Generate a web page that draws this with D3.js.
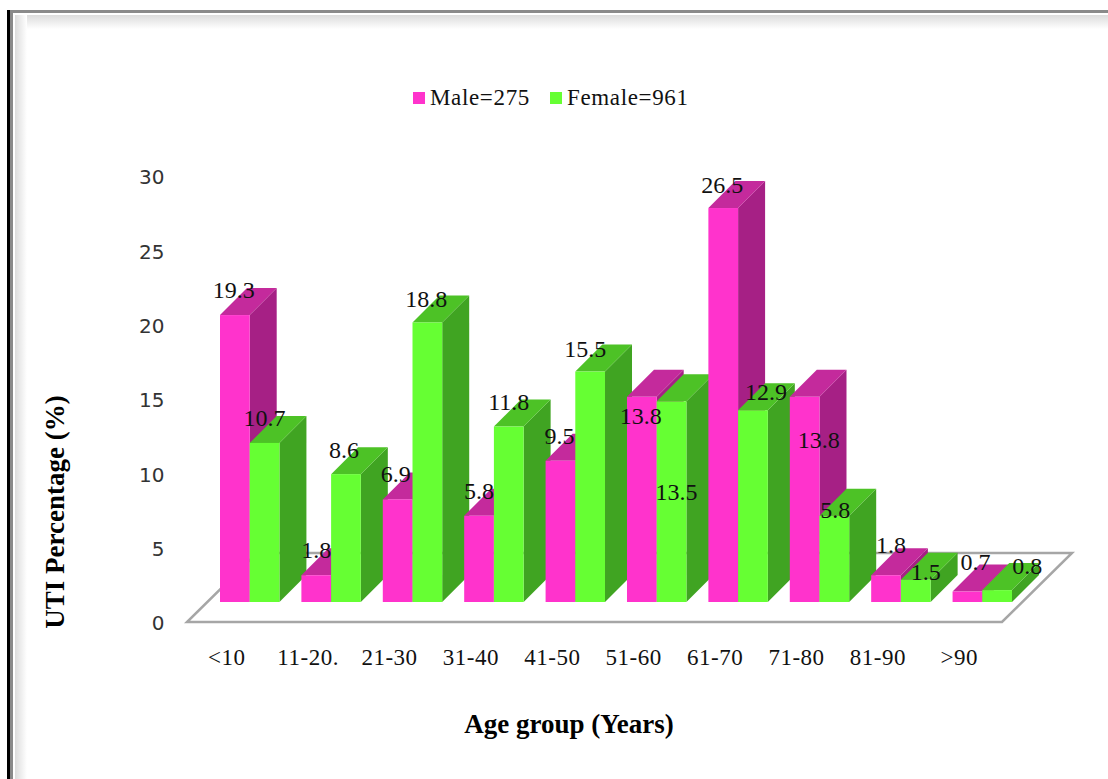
<!DOCTYPE html>
<html>
<head>
<meta charset="utf-8">
<script src="https://cdn.jsdelivr.net/npm/d3@7"></script>
<style>
  html, body { margin: 0; padding: 0; background: #fff; }
  svg { display: block; }
</style>
</head>
<body>
<svg id="chart" width="1108" height="779"></svg>
<script>
const categories = ["<10", "11-20.", "21-30", "31-40", "41-50", "51-60", "61-70", "71-80", "81-90", ">90"]
const seriesNames = ["Male=275", "Female=961"]
const male = [19.3, 1.8, 6.9, 5.8, 9.5, 13.8, 26.5, 13.8, 1.8, 0.7]
const female = [10.7, 8.6, 18.8, 11.8, 15.5, 13.5, 12.9, 5.8, 1.5, 0.8]
const yTicks = [0, 5, 10, 15, 20, 25, 30]

const width = 1108, height = 779
const depth = 27
const baseY = 602

const colors = {
    "Male=275": {front: "#ff33cc", top: "#c42a9c", side: "#a62085"},
    "Female=961": {front: "#66ff33", top: "#4dc226", side: "#40a422"}
}

const svg = d3.select("#chart")
const defs = svg.append("defs")

function gradient(id, x2, y2) {
    const g = defs.append("linearGradient").attr("id", id)
        .attr("x1", 0).attr("y1", 0).attr("x2", x2).attr("y2", y2)
    g.append("stop").attr("offset", 0).attr("stop-color", "#dcdcdc")
    g.append("stop").attr("offset", 1).attr("stop-color", "#ffffff")
}
gradient("shadeTop", 0, 1)
gradient("shadeLeft", 1, 0)

// picture frame
svg.append("rect").attr("x", 15).attr("y", 15).attr("width", width - 15).attr("height", 14).attr("fill", "url(#shadeTop)")
svg.append("rect").attr("x", 15).attr("y", 15).attr("width", 12).attr("height", height - 15).attr("fill", "url(#shadeLeft)")
svg.append("rect").attr("x", 10).attr("y", 10).attr("width", width - 10).attr("height", 3).attr("fill", "#8a8a8a")
svg.append("rect").attr("x", 10).attr("y", 10).attr("width", 3).attr("height", height - 10).attr("fill", "#8a8a8a")
svg.append("rect").attr("x", 7).attr("y", 10).attr("width", 3).attr("height", height - 10).attr("fill", "#000")

const xScale = d3.scaleBand()
        .domain(categories)
        .range([220, 1012])
        .paddingInner(0.27),
      inner = d3.scaleBand()
        .domain(seriesNames)
        .range([0, xScale.bandwidth()]),
      yScale = d3.scaleLinear()
        .domain([0, 30])
        .range([baseY, 156])

// floor
const floorDrop = 20, floorLeft = 187, floorRight = 1002, floorDepth = 69
svg.append("path")
    .attr("d", `M${floorLeft},${baseY + floorDrop}L${floorRight},${baseY + floorDrop}L${floorRight + floorDepth + 1},${baseY + floorDrop - floorDepth}L${floorLeft + floorDepth + 1},${baseY + floorDrop - floorDepth}Z`)
    .attr("fill", "#fff")
    .attr("stroke", "#a6a6a6")
    .attr("stroke-width", 2.5)

// bars, left to right so the later ones cover the earlier sides
const rows = []
categories.forEach((c, i) => {
    rows.push({cat: c, name: seriesNames[0], value: male[i]})
    rows.push({cat: c, name: seriesNames[1], value: female[i]})
})

const bars = svg.append("g").selectAll("g")
    .data(rows)
    .enter().append("g")

const x0 = d => xScale(d.cat) + inner(d.name),
      x1 = d => x0(d) + inner.bandwidth()

bars.append("path")
    .attr("d", d => `M${x1(d)},${yScale(d.value)}l${depth},${-depth}L${x1(d) + depth},${baseY - depth}L${x1(d)},${baseY}Z`)
    .attr("fill", d => colors[d.name].side)
bars.append("path")
    .attr("d", d => `M${x0(d)},${yScale(d.value)}l${depth},${-depth}L${x1(d) + depth},${yScale(d.value) - depth}L${x1(d)},${yScale(d.value)}Z`)
    .attr("fill", d => colors[d.name].top)
bars.append("rect")
    .attr("x", x0)
    .attr("y", d => yScale(d.value))
    .attr("width", inner.bandwidth())
    .attr("height", d => baseY - yScale(d.value))
    .attr("fill", d => colors[d.name].front)

// value labels, nudged by hand like in the original
const labelNudge = {
    "<10|Male=275": [-1, -25], "<10|Female=961": [0, -25],
    "11-20.|Male=275": [0, -25], "11-20.|Female=961": [-2, -24],
    "21-30|Male=275": [-2, -25], "21-30|Female=961": [-1, -24],
    "31-40|Male=275": [0, -25], "31-40|Female=961": [0, -25],
    "41-50|Male=275": [-1, -25], "41-50|Female=961": [-5, -23],
    "51-60|Male=275": [-1, 19], "51-60|Female=961": [5, 91],
    "61-70|Male=275": [-1, -23], "61-70|Female=961": [13, -18],
    "71-80|Male=275": [14, 43], "71-80|Female=961": [1, -6],
    "81-90|Male=275": [5, -30], "81-90|Female=961": [10, -8],
    ">90|Male=275": [8, -30], ">90|Female=961": [30, -24]
}

svg.append("g").selectAll("text")
    .data(rows)
    .enter().append("text")
    .attr("x", d => (x0(d) + x1(d)) / 2 + labelNudge[d.cat + "|" + d.name][0])
    .attr("y", d => yScale(d.value) + labelNudge[d.cat + "|" + d.name][1])
    .attr("text-anchor", "middle")
    .attr("dominant-baseline", "central")
    .attr("font-family", "Liberation Serif")
    .attr("font-size", 24)
    .attr("fill", "#111")
    .text(d => d.value)

// y axis is drawn on the front edge of the floor
const yAxis = d3.axisLeft(yScale).tickValues(yTicks).tickSize(0).tickPadding(0)
const yAxisView = svg.append("g")
    .attr("transform", `translate(164.5,${floorDrop + 1.5})`)
    .call(yAxis)
yAxisView.select(".domain").remove()
yAxisView.selectAll("text")
    .attr("font-family", "DejaVu Sans")
    .attr("font-size", 20)
    .attr("fill", "#333")

const xAxis = d3.axisBottom(xScale).tickSize(0).tickPadding(0)
const xAxisView = svg.append("g")
    .attr("transform", "translate(-23,649)")
    .call(xAxis)
xAxisView.select(".domain").remove()
xAxisView.selectAll("text")
    .attr("font-family", "Liberation Serif")
    .attr("font-size", 23)
    .attr("letter-spacing", 0.5)
    .attr("fill", "#111")

// axis titles
svg.append("text")
    .attr("x", 569).attr("y", 733)
    .attr("text-anchor", "middle")
    .attr("font-family", "Liberation Serif")
    .attr("font-weight", "bold")
    .attr("font-size", 27)
    .text("Age group (Years)")
svg.append("text")
    .attr("transform", "translate(64,512) rotate(-90)")
    .attr("text-anchor", "middle")
    .attr("font-family", "Liberation Serif")
    .attr("font-weight", "bold")
    .attr("font-size", 27)
    .text("UTI Percentage (%)")

// legend
const legendX = [413, 550]
const legend = svg.append("g").selectAll("g")
    .data(seriesNames)
    .enter().append("g")
    .attr("transform", (d, i) => `translate(${legendX[i]},92)`)
legend.append("rect")
    .attr("width", 12).attr("height", 12)
    .attr("fill", d => colors[d].front)
legend.append("text")
    .attr("x", 17).attr("y", 13)
    .attr("font-family", "Liberation Serif")
    .attr("font-size", 23)
    .attr("letter-spacing", 0.65)
    .attr("fill", "#111")
    .text(d => d)
</script>
</body>
</html>
